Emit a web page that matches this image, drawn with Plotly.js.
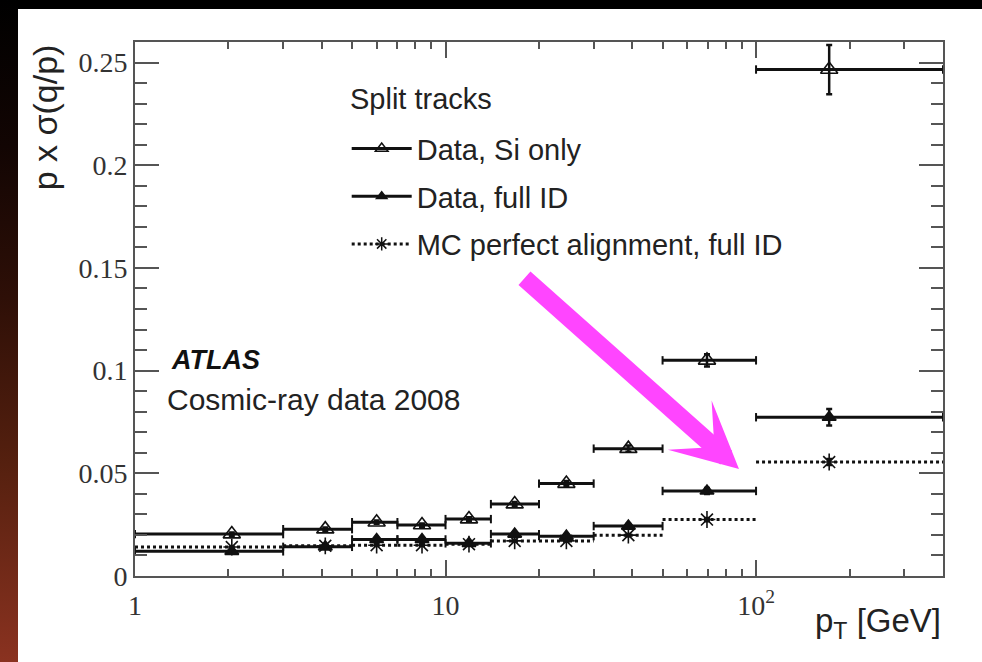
<!DOCTYPE html>
<html><head><meta charset="utf-8">
<script src="https://cdn.plot.ly/plotly-3.0.1.min.js"></script>
<style>
html,body{margin:0;padding:0;background:#000;width:982px;height:662px;overflow:hidden;}
#strip{position:absolute;left:0;top:0;width:18px;height:662px;background:linear-gradient(to bottom,#000 0%,#120503 22%,#2e0f07 45%,#55200f 70%,#8a3220 100%);}
#panel{position:absolute;left:18px;top:9px;width:964px;height:653px;background:#fff;}
#chart{position:absolute;left:0;top:0;width:982px;height:662px;}
</style></head><body>
<div id="strip"></div><div id="panel"></div><div id="chart"></div>
<script>
// bin edges in pT [GeV]
const binLo = [1, 3, 5, 7, 10, 14, 20, 30, 50, 100];
const binHi = [3, 5, 7, 10, 14, 20, 30, 50, 100, 400];
// mean pT of each bin (marker positions)
const ptMean = [2.05, 4.1, 6.0, 8.4, 11.9, 16.7, 24.5, 38.8, 69.5, 172];
// p x sigma(q/p)
const siOnly    = [0.0204, 0.0228, 0.0262, 0.0248, 0.0277, 0.0350, 0.0450, 0.0620, 0.1050, 0.2466];
const siOnlyErr = [0.0008, 0.0008, 0.0008, 0.0008, 0.0009, 0.0010, 0.0012, 0.0015, 0.0030, 0.0120];
const fullID    = [0.0120, 0.0142, 0.0178, 0.0178, 0.0159, 0.0204, 0.0194, 0.0243, 0.0414, 0.0773];
const fullIDErr = [0.0005, 0.0005, 0.0006, 0.0006, 0.0006, 0.0007, 0.0008, 0.0010, 0.0015, 0.0040];
const mcPerfect = [0.0141, 0.0147, 0.0150, 0.0150, 0.0155, 0.0171, 0.0171, 0.0199, 0.0275, 0.0555];
const mcErr     = [0.0003, 0.0003, 0.0003, 0.0003, 0.0003, 0.0004, 0.0004, 0.0005, 0.0008, 0.0015];

const seriesNames = ['Data, Si only', 'Data, full ID', 'MC perfect alignment, full ID'];
const yTickVals = [0, 0.05, 0.1, 0.15, 0.2, 0.25];
const yTickText = ['0', '0.05', '0.1', '0.15', '0.2', '0.25'];
const xTickVals = [1, 10, 100];
const xTickText = ['1', '10', '10<sup>2</sup>'];

const INK = '#111';

function segments(vals) {
  const xs = [], ys = [];
  for (let i = 0; i < vals.length; i++) {
    xs.push(binLo[i], binHi[i], null);
    ys.push(vals[i], vals[i], null);
  }
  return {xs, ys};
}

const styles = [
  {vals: siOnly, err: siOnlyErr, dash: 'solid', sym: 'triangle-up-open', size: 15, lsize: 11, caps: true},
  {vals: fullID, err: fullIDErr, dash: 'solid', sym: 'triangle-up', size: 12, lsize: 9, caps: true},
  {vals: mcPerfect, err: mcErr, dash: '3px,3px', sym: 'asterisk-open', size: 14, lsize: 11, caps: false}
];

const traces = [];
styles.forEach((s, k) => {
  const seg = segments(s.vals);
  traces.push({
    x: seg.xs, y: seg.ys, mode: s.caps ? 'lines+markers' : 'lines',
    line: {color: INK, width: 3, dash: s.dash},
    marker: {symbol: 'line-ns-open', size: 6, color: INK, line: {color: INK, width: 2}},
    showlegend: false, hoverinfo: 'skip', legendgroup: 'g' + k
  });
  traces.push({
    x: ptMean, y: s.vals, mode: 'markers',
    marker: {symbol: s.sym, size: s.size, color: INK, line: {color: INK, width: 1.6}},
    error_y: {type: 'data', array: s.err, color: INK, thickness: 2.5, width: 3},
    showlegend: false, legendgroup: 'g' + k
  });
});
styles.forEach((s, k) => {
  traces.push({
    x: [null], y: [null], mode: 'lines+markers', name: seriesNames[k],
    line: {color: INK, width: 3, dash: s.dash},
    marker: {symbol: s.sym, size: s.lsize, color: INK, line: {color: INK, width: 1.5}},
    legendgroup: 'g' + k, showlegend: true
  });
});

const yMinor = [];
for (let v = 0.01; v < 0.26; v += 0.01) {
  const r = Math.round(v * 100) / 100;
  if (Math.round(r * 100) % 5 !== 0) yMinor.push(r);
}
const xMinor = [];
[1, 10, 100].forEach(d => { for (let m = 2; m <= 9; m++) if (d * m <= 400) xMinor.push(d * m); });

const tickFont = {family: 'Liberation Serif, Times New Roman, serif', size: 28, color: '#333'};
const sans = 'Liberation Sans, Arial, sans-serif';

const layout = {
  width: 982, height: 662,
  margin: {l: 135, r: 39, t: 42, b: 86},
  paper_bgcolor: 'rgba(0,0,0,0)', plot_bgcolor: 'rgba(0,0,0,0)',
  showlegend: true,
  xaxis: {
    type: 'log', range: [0, Math.log10(400)],
    tickmode: 'array', tickvals: xTickVals, ticktext: xTickText,
    ticks: 'inside', ticklen: 16, tickwidth: 2, tickcolor: '#555',
    minor: {tickmode: 'array', tickvals: xMinor, ticks: 'inside', ticklen: 7, tickwidth: 2, tickcolor: '#555'},
    showline: true, linecolor: '#555', linewidth: 2, mirror: 'ticks',
    showgrid: false, zeroline: false, tickfont: tickFont, ticklabelstandoff: 3
  },
  yaxis: {
    range: [0, 0.26],
    tickmode: 'array', tickvals: yTickVals, ticktext: yTickText,
    ticks: 'inside', ticklen: 24, tickwidth: 2, tickcolor: '#555',
    minor: {tickmode: 'array', tickvals: yMinor, ticks: 'inside', ticklen: 12, tickwidth: 2, tickcolor: '#555'},
    showline: true, linecolor: '#555', linewidth: 2, mirror: 'ticks',
    showgrid: false, zeroline: false, tickfont: tickFont, ticklabelstandoff: 0
  },
  legend: {
    x: 0.262, xanchor: 'left', y: 0.848, yanchor: 'top',
    bgcolor: 'rgba(0,0,0,0)', borderwidth: 0,
    font: {family: sans, size: 29, color: '#222'},
    tracegroupgap: 7, itemwidth: 60
  },
  annotations: [
    {xref: 'paper', yref: 'paper', x: 0.2636, y: 0.893, xanchor: 'left', yanchor: 'middle',
     text: 'Split tracks', showarrow: false, font: {family: sans, size: 29, color: '#222'}},
    {xref: 'paper', yref: 'paper', x: 0.042, y: 0.405, xanchor: 'left', yanchor: 'middle',
     text: '<b><i>ATLAS</i></b>', showarrow: false, font: {family: sans, size: 27, color: '#111'}},
    {xref: 'paper', yref: 'paper', x: 0.037, y: 0.33, xanchor: 'left', yanchor: 'middle',
     text: 'Cosmic-ray data 2008', showarrow: false, font: {family: sans, size: 30, color: '#222'}},
    {xref: 'paper', yref: 'paper', x: 1, y: -0.088, xanchor: 'right', yanchor: 'middle',
     text: 'p<sub>T</sub> [GeV]', showarrow: false, font: {family: sans, size: 33, color: '#222'}},
    {xref: 'paper', yref: 'paper', x: -0.111, y: 1, xanchor: 'center', yanchor: 'top',
     text: 'p x σ(q/p)', textangle: -90, showarrow: false, font: {family: sans, size: 34, color: '#222'}},
    {xref: 'paper', yref: 'paper', x: 0.7475, y: 0.2004, text: ' ', font: {size: 1},
     showarrow: true, arrowhead: 3, arrowwidth: 18, arrowsize: 0.61, arrowcolor: '#ff45ff',
     ax: -216, ay: -192, standoff: 0, startstandoff: 0}
  ]
};

Plotly.newPlot('chart', traces, layout, {displayModeBar: false, staticPlot: true});
</script>
</body></html>
